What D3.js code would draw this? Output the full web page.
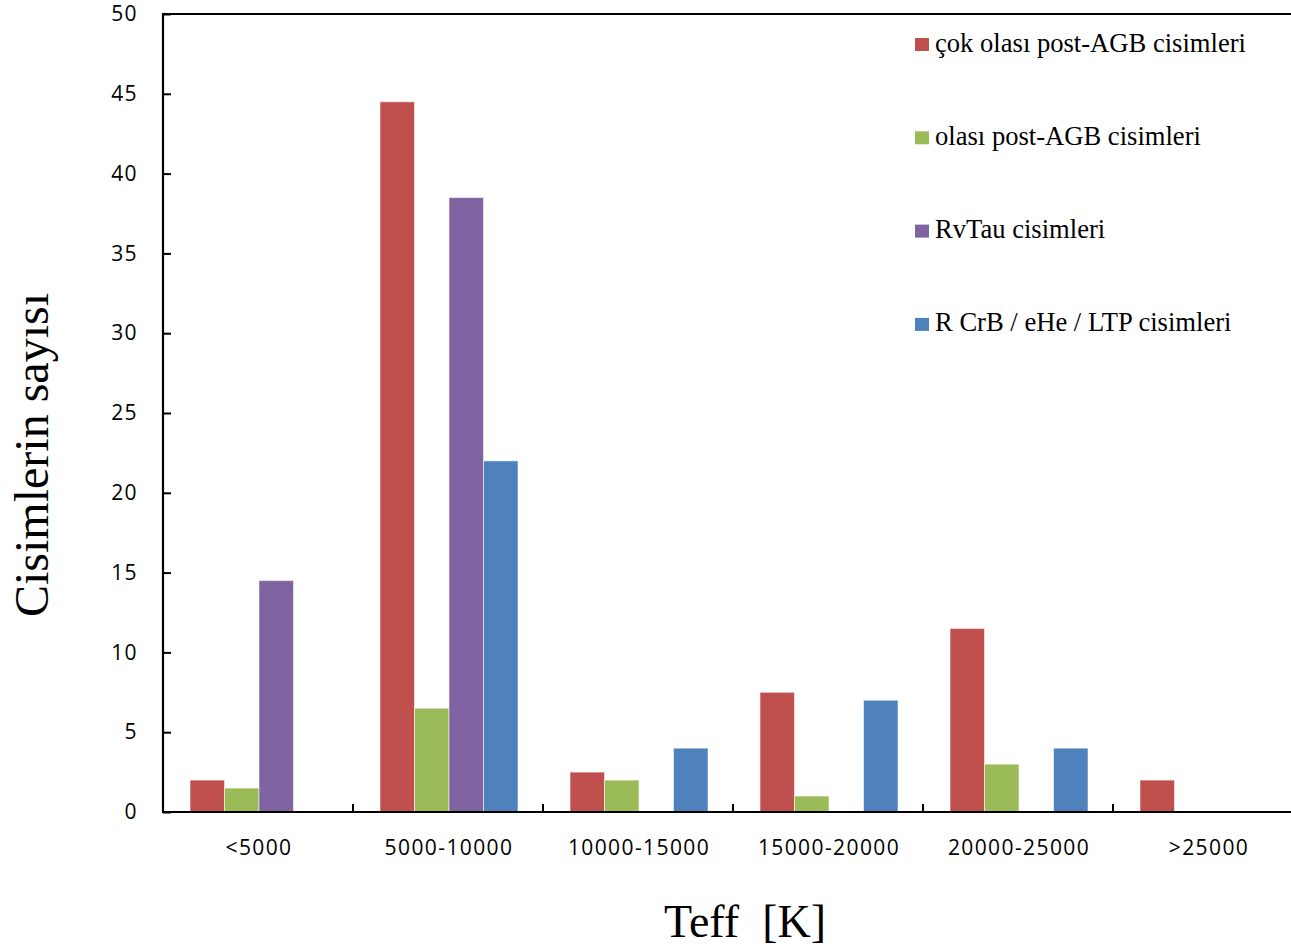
<!DOCTYPE html>
<html>
<head>
<meta charset="utf-8">
<script src="https://cdn.jsdelivr.net/npm/d3@7"></script>
<style>
  html, body { margin: 0; padding: 0; background: #fff; overflow: hidden; }
  svg { display: block; }
  .tick-label { font-family: "Open Sans", "Liberation Sans", sans-serif; font-size: 21px; letter-spacing: 1.4px; fill: #000; }
  .serif { font-family: "Liberation Serif", "Times New Roman", serif; fill: #000; }
</style>
</head>
<body>
<svg id="chart" width="1291" height="948"></svg>
<script>
// Temperature bins (Teff)
const categories = ["<5000", "5000-10000", "10000-15000", "15000-20000", "20000-25000", ">25000"];

// Object classes
const seriesNames = [
  "çok olası post-AGB cisimleri",
  "olası post-AGB cisimleri",
  "RvTau cisimleri",
  "R CrB / eHe / LTP cisimleri"
];
const seriesColors = ["#C0504D", "#9BBB59", "#8064A2", "#4F81BD"];

// Counts per bin for each class
const cokOlasi = [2, 44.5, 2.5, 7.5, 11.5, 2];
const olasi    = [1.5, 6.5, 2, 1, 3, 0];
const rvTau    = [14.5, 38.5, 0, 0, 0, 0];
const rcrb     = [0, 22, 4, 7, 4, 0];
const seriesValues = [cokOlasi, olasi, rvTau, rcrb];

const yTicks = [0, 5, 10, 15, 20, 25, 30, 35, 40, 45, 50];

const svg = d3.select("#chart");
const plotLeft = 163, plotBottom = 812, plotTop = 14, binWidth = 190;

const x0 = d3.scaleBand().domain(categories).range([plotLeft, plotLeft + binWidth * categories.length]);
const x1 = d3.scaleBand().domain(d3.range(seriesNames.length)).range([27, 165]);
const y = d3.scaleLinear().domain([0, 50]).range([plotBottom, plotTop]);

// Bars
const groups = svg.append("g").selectAll("g")
  .data(categories)
  .join("g")
  .attr("transform", d => `translate(${x0(d)},0)`);

groups.selectAll("rect")
  .data((c, ci) => seriesValues.map((vals, si) => ({ si, v: vals[ci] })).filter(d => d.v > 0))
  .join("rect")
  .attr("x", d => x1(d.si))
  .attr("width", x1.bandwidth())
  .attr("y", d => y(d.v))
  .attr("height", d => y(0) - y(d.v))
  .attr("fill", d => seriesColors[d.si])
  .attr("stroke", "rgba(255,255,255,0.55)")
  .attr("stroke-width", 1);

// Y axis with inward ticks
const yAxis = d3.axisLeft(y).tickValues(yTicks).tickSize(-8).tickPadding(25);
const yg = svg.append("g").attr("transform", `translate(${plotLeft},0)`).call(yAxis);
yg.select(".domain").remove();
yg.selectAll(".tick line").attr("stroke", "#000").attr("stroke-width", 2);
yg.selectAll(".tick text").attr("class", "tick-label");
yg.attr("font-family", null).attr("font-size", null);

// X axis labels centred in each bin
const xAxis = d3.axisBottom(x0).tickSize(0).tickPadding(28);
const xg = svg.append("g").attr("transform", `translate(1,${plotBottom})`).call(xAxis);
xg.select(".domain").remove();
xg.selectAll(".tick text").attr("class", "tick-label");
xg.attr("font-family", null).attr("font-size", null);

// Bin separators, pointing up from the axis
svg.append("g").selectAll("line")
  .data(categories.slice(1))
  .join("line")
  .attr("x1", d => x0(d)).attr("x2", d => x0(d))
  .attr("y1", plotBottom).attr("y2", plotBottom - 8)
  .attr("stroke", "#000").attr("stroke-width", 2);

// Axis lines and top border
const frame = svg.append("g").attr("stroke", "#000").attr("stroke-width", 2.2).attr("fill", "none");
frame.append("line").attr("x1", plotLeft).attr("x2", plotLeft).attr("y1", plotTop).attr("y2", plotBottom);
frame.append("line").attr("x1", plotLeft - 1).attr("x2", 1291).attr("y1", plotBottom).attr("y2", plotBottom);
frame.append("line").attr("x1", plotLeft - 1).attr("x2", 1291).attr("y1", plotTop).attr("y2", plotTop);

// Legend
const legend = svg.append("g").selectAll("g")
  .data(seriesNames)
  .join("g")
  .attr("transform", (d, i) => `translate(915,${38 + i * 93.3})`);
legend.append("rect").attr("width", 14).attr("height", 13).attr("fill", (d, i) => seriesColors[i]);
legend.append("text")
  .attr("class", "serif")
  .attr("x", 20).attr("y", 13.5)
  .attr("font-size", 26.6)
  .text(d => d);

// Axis titles
svg.append("text")
  .attr("class", "serif")
  .attr("font-size", 48)
  .attr("text-anchor", "middle")
  .attr("transform", "translate(48,455) rotate(-90)")
  .text("Cisimlerin sayısı");

svg.append("text")
  .attr("class", "serif")
  .attr("font-size", 46)
  .attr("text-anchor", "middle")
  .attr("x", 745).attr("y", 937)
  .style("white-space", "pre")
  .text("Teff  [K]");
</script>
</body>
</html>
